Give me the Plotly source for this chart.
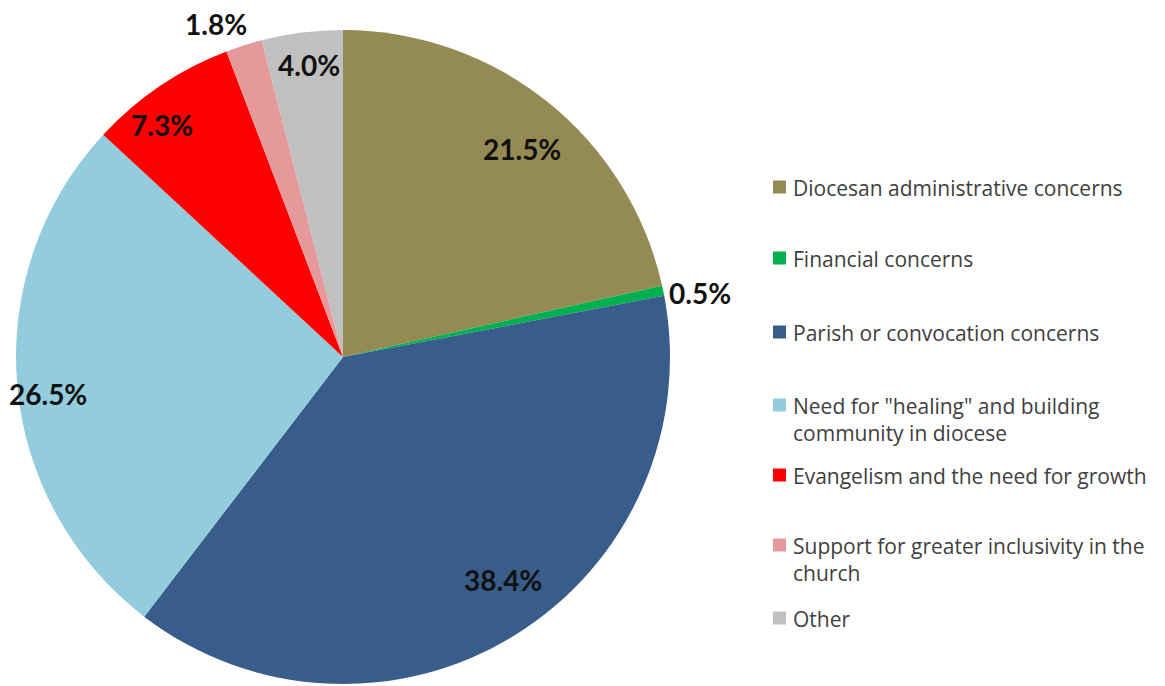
import math
import plotly.graph_objects as go

categories = [
    "Diocesan administrative concerns",
    "Financial concerns",
    "Parish or convocation concerns",
    "Need for \"healing\" and building<br>community in diocese",
    "Evangelism and the need for growth",
    "Support for greater inclusivity in the<br>church",
    "Other",
]
values = [21.5, 0.5, 38.4, 26.5, 7.3, 1.8, 4.0]
value_labels = ["21.5%", "0.5%", "38.4%", "26.5%", "7.3%", "1.8%", "4.0%"]

colors = ["#948A54", "#00B050", "#385D8A", "#93CDDD", "#FF0000", "#E6999B", "#C0C0C0"]
# label distance from centre as fraction of radius (style)
label_r = [0.84, 1.11, 0.84, 0.91, 0.90, 1.09, 0.90]
label_shift = [2, 1.5, -4, -2.2, -4, -3.3, 0.5]  # angular nudge in degrees (style)

W, H = 1165, 686
OFF = 8  # page body margin in the browser
cx, cy, R = 343 - OFF, 357 - OFF, 327

fig = go.Figure()
fig.add_trace(go.Pie(
    labels=categories,
    values=values,
    sort=False,
    direction="clockwise",
    rotation=0,
    marker=dict(colors=colors, line=dict(width=0)),
    textinfo="none",
    hoverinfo="label+percent",
    showlegend=False,
    domain=dict(x=[(cx - R) / W, (cx + R) / W], y=[1 - (cy + R) / H, 1 - (cy - R) / H]),
))

annotations = []
total = sum(values)
cum = 0.0
for v, lab, rf, sh in zip(values, value_labels, label_r, label_shift):
    mid = (cum + v / 2) / total * 360 + sh
    cum += v
    a = math.radians(mid)
    px = cx + rf * R * math.sin(a)
    py = cy - rf * R * math.cos(a)
    annotations.append(dict(
        x=px / W, y=1 - py / H, xref="paper", yref="paper",
        text=lab, showarrow=False, xanchor="center", yanchor="middle", borderpad=0,
        font=dict(family="Lato", size=28, color="#111111", weight="bold"),
    ))

# legend built from shapes + text
legend_y = [187, 258, 332, 405, 475, 545, 618]
shapes = []
for cat, col, ly in zip(categories, colors, legend_y):
    ly = ly - OFF
    shapes.append(dict(type="rect", xref="paper", yref="paper",
                       x0=(773 - OFF) / W, x1=(786 - OFF) / W,
                       y0=1 - (ly + 6.5) / H, y1=1 - (ly - 6.5) / H,
                       fillcolor=col, line=dict(width=0)))
    annotations.append(dict(
        x=(791 - OFF) / W, y=1 - (ly - 15) / H, xref="paper", yref="paper",
        text=cat, showarrow=False, xanchor="left", yanchor="top", align="left",
        font=dict(family="Open Sans", size=21, color="#404040"),
    ))

fig.update_layout(
    width=W, height=H,
    margin=dict(l=0, r=0, t=0, b=0),
    paper_bgcolor="white", plot_bgcolor="white",
    annotations=annotations, shapes=shapes,
)
fig.write_html("out.html")
